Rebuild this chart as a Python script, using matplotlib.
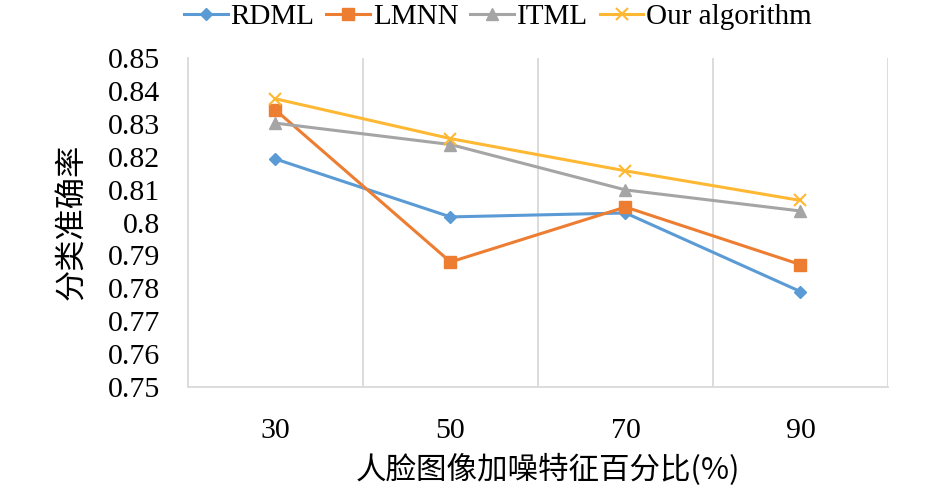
import matplotlib
matplotlib.use("Agg")
import matplotlib.pyplot as plt

categories = ["30", "50", "70", "90"]
rdml = [0.8193, 0.8017, 0.8029, 0.7790]
lmnn = [0.8342, 0.7880, 0.8047, 0.7872]
itml = [0.8302, 0.8237, 0.8099, 0.8035]
ours = [0.8376, 0.8255, 0.8157, 0.8067]
series_names = ["RDML", "LMNN", "ITML", "Our algorithm"]
yticks = [0.75, 0.76, 0.77, 0.78, 0.79, 0.80, 0.81, 0.82, 0.83, 0.84, 0.85]
ytick_labels = ["0.75", "0.76", "0.77", "0.78", "0.79", "0.8", "0.81", "0.82", "0.83", "0.84", "0.85"]
xlabel = "人脸图像加噪特征百分比(%)"
ylabel = "分类准确率"

serif = ["Liberation Serif", "DejaVu Serif"]
cjk = ["Noto Sans CJK SC", "Liberation Serif", "DejaVu Sans"]

fig = plt.figure(figsize=(9.45, 4.9), dpi=100)
ax = fig.add_axes([188/945, 1-387/490, 700/945, (387-58)/490])

x = list(range(len(categories)))
styles = [
    dict(color="#5B9BD5", marker="D", markersize=6),
    dict(color="#ED7D31", marker="s", markersize=9),
    dict(color="#A5A5A5", marker="^", markersize=8),
    dict(color="#FFB833", marker="x", markersize=8, markeredgewidth=1.5),
]
for vals, name, st in zip([rdml, lmnn, itml, ours], series_names, styles):
    ax.plot(x, vals, linewidth=2.2, label=name, **st)

ax.set_xlim(-0.5, 3.5)
ax.set_ylim(0.75, 0.85)
for b in [0.5, 1.5, 2.5, 3.5]:
    ax.axvline(b, color="#D9D9D9", linewidth=1.3, zorder=0)

for s in ["top", "right"]:
    ax.spines[s].set_visible(False)
for s in ["left", "bottom"]:
    ax.spines[s].set_color("#D9D9D9")
    ax.spines[s].set_linewidth(1.3)

ax.set_xticks(x)
ax.set_xticklabels(categories, fontfamily=serif, fontsize=21.5)
ax.set_yticks(yticks)
ax.set_yticklabels(ytick_labels, fontfamily=serif, fontsize=21.5)
ax.tick_params(axis="both", length=0)
ax.tick_params(axis="x", pad=22)
ax.tick_params(axis="y", pad=20)

fig.text(548/945, 1-470/490, xlabel, fontfamily=cjk, fontsize=22, ha="center", va="center", fontweight="light")
fig.text(72/945, 1-222/490, ylabel, fontfamily=cjk, fontsize=22.5, ha="center", va="center", rotation=90, fontweight="light")

leg = fig.legend(loc="center", bbox_to_anchor=(498/945, 1-17/490), ncol=4, frameon=False,
                 prop={"family": serif, "size": 21}, handlelength=1.5, handletextpad=0.1,
                 columnspacing=0.4, borderaxespad=0)

fig.savefig("out.png", dpi=100)
